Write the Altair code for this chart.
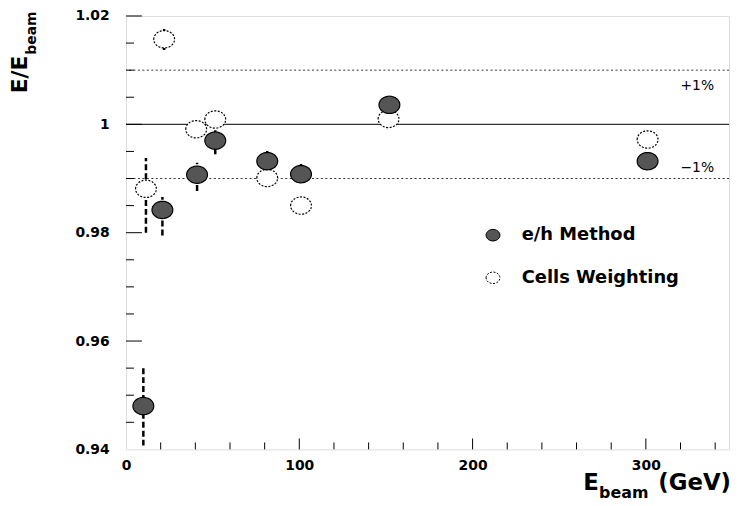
import altair as alt
import pandas as pd

# ---- data ----
SERIES = ["e/h Method", "Cells Weighting"]

ENERGY_EH = [10, 21, 41, 51.5, 81.5, 101, 152, 301]
RESP_EH = [0.9480, 0.9842, 0.9907, 0.9970, 0.9932, 0.9908, 1.0036, 0.9932]
LO_EH = [0.9407, 0.9795, 0.9877, 0.9945, 0.9912, 0.9892, 1.0026, 0.9925]
HI_EH = [0.9551, 0.9866, 0.9929, 0.9993, 0.9951, 0.9927, 1.0046, 0.9939]

ENERGY_CW = [11.5, 22, 40.5, 51.5, 81.5, 101, 151.5, 301]
RESP_CW = [0.9881, 1.0157, 0.9991, 1.0009, 0.9901, 0.9850, 1.0010, 0.9972]
LO_CW = [0.9800, 1.0137, 0.9984, 1.0002, 0.9894, 0.9843, 1.0003, 0.9965]
HI_CW = [0.9938, 1.0176, 0.9998, 1.0016, 0.9908, 0.9857, 1.0017, 0.9979]

REF_SOLID = [1.0]
REF_DOTTED = [1.01, 0.99]

Y_LABELS = [0.94, 0.96, 0.98, 1.0, 1.02]
Y_MAJOR = [0.96, 0.98, 1.0, 1.02]
Y_MINOR = [0.945, 0.95, 0.955, 0.965, 0.97, 0.975, 0.985, 0.99, 0.995,
           1.005, 1.01, 1.015]
X_LABELS = [0, 100, 200, 300]
X_MAJOR = [100, 200, 300]
X_MINOR = [20, 40, 60, 80, 120, 140, 160, 180, 220, 240, 260, 280, 320, 340]

X_DOMAIN = [0, 348]
Y_DOMAIN = [0.94, 1.02]

ELLIPSE = "M-1,0 A1,0.83 0 1,1 1,0 A1,0.83 0 1,1 -1,0 Z"
FONT = "DejaVu Sans"

# ---- tables ----
rows = []
for x, y, lo, hi in zip(ENERGY_CW, RESP_CW, LO_CW, HI_CW):
    rows.append({"series": SERIES[1], "E": x, "R": y, "lo": lo, "hi": hi})
for x, y, lo, hi in zip(ENERGY_EH, RESP_EH, LO_EH, HI_EH):
    rows.append({"series": SERIES[0], "E": x, "R": y, "lo": lo, "hi": hi})
df = pd.DataFrame(rows)

xs = alt.Scale(domain=X_DOMAIN, nice=False, zero=False)
ys = alt.Scale(domain=Y_DOMAIN, nice=False, zero=False)

XAXIS = alt.Axis(values=X_LABELS, format="d", ticks=False, domain=False,
                 grid=False, labelFont=FONT, labelFontWeight="bold",
                 labelFontSize=14, labelPadding=9, labelFlush=False,
                 labelColor="black", title=None)
YAXIS = alt.Axis(values=Y_LABELS,
                 labelExpr="datum.value == 1 ? '1' : format(datum.value, '.2f')",
                 ticks=False, domain=False, grid=False, labelFont=FONT,
                 labelFontWeight="bold", labelFontSize=14, labelPadding=17,
                 labelFlush=False, labelColor="black", title=None)

W, H = 608, 437

# reference lines
solid = alt.Chart(pd.DataFrame({"v": REF_SOLID})).mark_rule(
    color="#333", strokeWidth=1.2
).encode(y=alt.Y("v:Q", scale=ys, axis=YAXIS))
dotted = alt.Chart(pd.DataFrame({"v": REF_DOTTED})).mark_rule(
    color="#333", strokeWidth=1, strokeDash=[2, 2.5]
).encode(y=alt.Y("v:Q", scale=ys, axis=YAXIS))

# ticks pointing inward
def yticks(vals, length):
    return alt.Chart(pd.DataFrame({"v": vals})).mark_rule(
        color="black", strokeWidth=1
    ).encode(y=alt.Y("v:Q", scale=ys, axis=YAXIS), x=alt.value(0), x2=alt.value(length))

def xticks(vals, length):
    return alt.Chart(pd.DataFrame({"v": vals})).mark_rule(
        color="black", strokeWidth=1
    ).encode(x=alt.X("v:Q", scale=xs, axis=XAXIS), y=alt.value(H), y2=alt.value(H - length))

# error bars
errs = alt.Chart(df).mark_rule(
    color="black", strokeWidth=2.5, strokeDash=[6, 3]
).encode(
    x=alt.X("E:Q", scale=xs, axis=XAXIS),
    y=alt.Y("lo:Q", scale=ys, axis=YAXIS),
    y2="hi:Q",
)

LEG = dict(title=None, orient="none", legendX=361, legendY=212,
           symbolType=ELLIPSE, symbolSize=196, symbolStrokeColor="black",
           symbolStrokeWidth=1, labelFont=FONT, labelFontWeight="bold",
           labelFontSize=18, labelColor="black", labelOffset=20, rowPadding=25)

# markers
points = alt.Chart(df).mark_point(
    shape=ELLIPSE, filled=True, size=441, stroke="black", strokeWidth=1.2, opacity=1
).encode(
    x=alt.X("E:Q", scale=xs, axis=XAXIS),
    y=alt.Y("R:Q", scale=ys, axis=YAXIS),
    fill=alt.Fill("series:N",
                  scale=alt.Scale(domain=SERIES, range=["#555555", "white"]),
                  legend=alt.Legend(**LEG)),
    strokeDash=alt.StrokeDash("series:N",
                              scale=alt.Scale(domain=SERIES, range=[[1, 0], [2, 1.5]]),
                              legend=alt.Legend(**LEG)),
)

# annotations & titles
def label(text, x, y, size, weight="normal", angle=0, align="center", baseline="middle"):
    return alt.Chart(pd.DataFrame({"t": [text]})).mark_text(
        text=text, font=FONT, fontSize=size, fontWeight=weight, angle=angle,
        align=align, baseline=baseline, color="black"
    ).encode(x=alt.value(x), y=alt.value(y))

annots = [
    label("+1%", 576, 71, 14),
    label("\u22121%", 576, 153, 14),
    label("E/E", -100, 78, 22, "bold", 270, "left", "alphabetic"),
    label("beam", -91, 39, 14, "bold", 270, "left", "alphabetic"),
    label("E", 461, 478, 23, "bold", 0, "left", "alphabetic"),
    label("beam", 477, 486, 16, "bold", 0, "left", "alphabetic"),
    label("(GeV)", 610, 478, 23, "bold", 0, "right", "alphabetic"),
]

chart = alt.layer(
    solid, dotted,
    yticks(Y_MINOR, 8), yticks(Y_MAJOR, 16),
    xticks(X_MINOR, 7), xticks(X_MAJOR, 11),
    errs, points, *annots
).properties(
    width=W, height=H,
    autosize=alt.AutoSizeParams(type="none"),
    padding={"left": 119, "top": 6, "right": 4, "bottom": 52},
).configure_view(
    stroke="black", strokeWidth=2.5
).configure(background="white")

chart.save("out.html", embed_options={"renderer": "svg", "actions": False})
